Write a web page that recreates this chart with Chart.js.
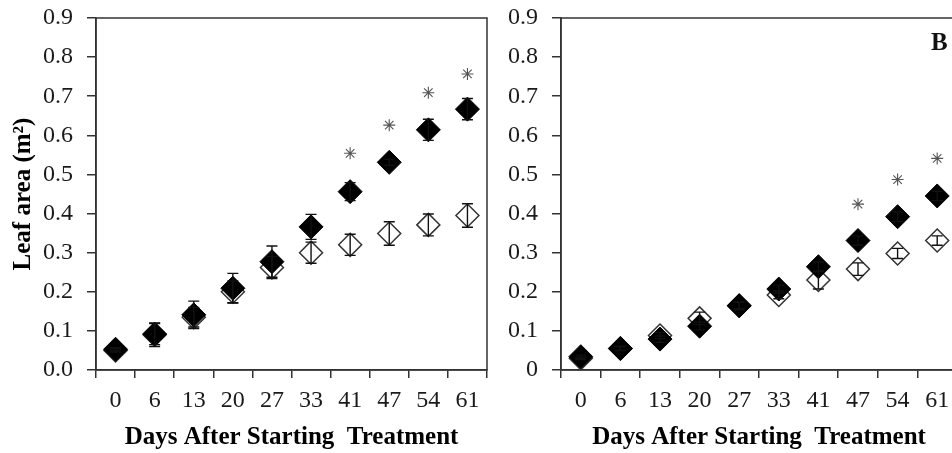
<!DOCTYPE html>
<html>
<head>
<meta charset="utf-8">
<script src="https://cdn.jsdelivr.net/npm/chart.js@4/dist/chart.umd.min.js"></script>
<style>
  html, body { margin: 0; padding: 0; background: #fff; }
  body { width: 952px; height: 453px; overflow: hidden; position: relative; }
  canvas { position: absolute; top: 0; }
  #chartA { left: 0; }
  #chartB { left: 470px; }
  #panelB {
    position: absolute; left: 931px; top: 28px;
    font: bold 25px "Liberation Serif", serif; color: #111;
  }
</style>
</head>
<body>
<canvas id="chartA" width="500" height="453"></canvas>
<canvas id="chartB" width="500" height="453"></canvas>
<div id="panelB">B</div>
<script>
// 横轴：开始处理后的天数
const days = ['0', '6', '13', '20', '27', '33', '41', '47', '54', '61'];
const yTicksA = ['0.0', '0.1', '0.2', '0.3', '0.4', '0.5', '0.6', '0.7', '0.8', '0.9'];
const yTicksB = ['0', '0.1', '0.2', '0.3', '0.4', '0.5', '0.6', '0.7', '0.8', '0.9'];

// 面板 A
const treatA = [0.053, 0.092, 0.141, 0.209, 0.277, 0.366, 0.456, 0.531, 0.614, 0.667];
const treatErrA = [0.004, 0.027, 0.035, 0.038, 0.04, 0.032, 0.023, 0.008, 0.027, 0.027];
const ctrlA = [0.05, 0.09, 0.135, 0.2, 0.262, 0.3, 0.32, 0.349, 0.371, 0.395];
const ctrlErrA = [0.004, 0.03, 0.025, 0.028, 0.028, 0.027, 0.027, 0.03, 0.028, 0.03];
const starA = [null, null, null, null, null, null, 0.554, 0.626, 0.709, 0.757];

// 面板 B
const treatB = [0.034, 0.055, 0.079, 0.112, 0.164, 0.207, 0.264, 0.331, 0.392, 0.445];
const treatErrB = [0.004, 0.005, 0.008, 0.01, 0.01, 0.01, 0.012, 0.012, 0.012, 0.012];
const ctrlB = [0.03, 0.055, 0.088, 0.132, 0.165, 0.192, 0.23, 0.258, 0.298, 0.331];
const ctrlErrB = [0.003, 0.005, 0.008, 0.016, 0.008, 0.01, 0.023, 0.016, 0.013, 0.012];
const starB = [null, null, null, null, null, null, null, 0.424, 0.487, 0.541];

const AXIS = '#333';
const SERIF = '"Liberation Serif", "Times New Roman", serif';

// 误差线 + 外框
const errorBarPlugin = {
  id: 'errorBars',
  afterDatasetsDraw(chart) {
    const ctx = chart.ctx;
    const yScale = chart.scales.y;
    ctx.save();
    ctx.strokeStyle = '#111';
    ctx.lineWidth = 1.4;
    chart.data.datasets.forEach((ds, di) => {
      if (!ds.errors) return;
      const meta = chart.getDatasetMeta(di);
      ds.data.forEach((v, i) => {
        const e = ds.errors[i];
        if (v == null || !e) return;
        const x = meta.data[i].x;
        const yTop = yScale.getPixelForValue(v + e);
        const yBot = yScale.getPixelForValue(v - e);
        ctx.beginPath();
        ctx.moveTo(x, yTop); ctx.lineTo(x, yBot);
        ctx.moveTo(x - 5.5, yTop); ctx.lineTo(x + 5.5, yTop);
        ctx.moveTo(x - 5.5, yBot); ctx.lineTo(x + 5.5, yBot);
        ctx.stroke();
      });
    });
    // 上边和右边的框线
    const a = chart.chartArea;
    ctx.strokeStyle = AXIS;
    ctx.lineWidth = 1.5;
    ctx.strokeRect(a.left, a.top, a.right - a.left, a.bottom - a.top);
    ctx.restore();
  }
};

function makeChart(id, treat, treatErr, ctrl, ctrlErr, stars, yLabels, opts) {
  return new Chart(document.getElementById(id), {
    type: 'line',
    data: {
      labels: days,
      datasets: [
        {
          data: treat,
          errors: treatErr,
          showLine: false,
          pointStyle: 'rectRot',
          pointRadius: 12,
          backgroundColor: '#000',
          borderColor: '#000',
          borderWidth: 1
        },
        {
          data: ctrl,
          errors: ctrlErr,
          showLine: false,
          pointStyle: 'rectRot',
          pointRadius: 11.5,
          backgroundColor: '#fff',
          borderColor: '#333',
          borderWidth: 1.5
        },
        {
          data: stars,
          showLine: false,
          pointStyle: 'star',
          pointRadius: 6,
          borderColor: '#555',
          borderWidth: 1.1
        }
      ]
    },
    options: {
      responsive: false,
      animation: false,
      events: [],
      layout: { padding: { top: 18, right: opts.padRight, left: 0, bottom: 0 } },
      plugins: { legend: { display: false }, tooltip: { enabled: false } },
      scales: {
        x: {
          offset: true,
          grid: { offset: true, drawOnChartArea: false, tickLength: 8, color: AXIS, lineWidth: 1.5 },
          border: { color: AXIS, width: 1.5 },
          ticks: { padding: 8, color: '#1a1a1a', font: { family: SERIF, size: 24 }, maxRotation: 0 },
          title: {
            display: true,
            text: 'Days After Starting  Treatment',
            color: '#000',
            padding: { top: 0, bottom: 0 },
            font: { family: SERIF, size: 25, weight: 'bold' }
          },
          afterFit: s => { s.height = 83; s.paddingLeft = 0; s.paddingRight = 0; }
        },
        y: {
          min: 0,
          max: 0.9,
          ticks: {
            stepSize: 0.1,
            padding: 14,
            color: '#1a1a1a',
            font: { family: SERIF, size: 24 },
            callback: (v, i) => yLabels[i]
          },
          grid: { drawOnChartArea: false, tickLength: 9, color: AXIS, lineWidth: 1.5 },
          border: { color: AXIS, width: 1.5 },
          title: {
            display: opts.yTitle,
            text: 'Leaf area (m²)',
            color: '#000',
            padding: { top: 9, bottom: 0 },
            font: { family: SERIF, size: 25, weight: 'bold' }
          },
          // 固定坐标轴宽度，去掉标签带来的额外上下留白
          afterFit: s => { s.width = opts.yWidth; s.paddingTop = 0; s.paddingBottom = 0; }
        }
      }
    },
    plugins: [errorBarPlugin]
  });
}

makeChart('chartA', treatA, treatErrA, ctrlA, ctrlErrA, starA, yTicksA, { padRight: 11, yWidth: 96, yTitle: true });
makeChart('chartB', treatB, treatErrB, ctrlB, ctrlErrB, starB, yTicksB, { padRight: 10, yWidth: 91, yTitle: false });
</script>
</body>
</html>
